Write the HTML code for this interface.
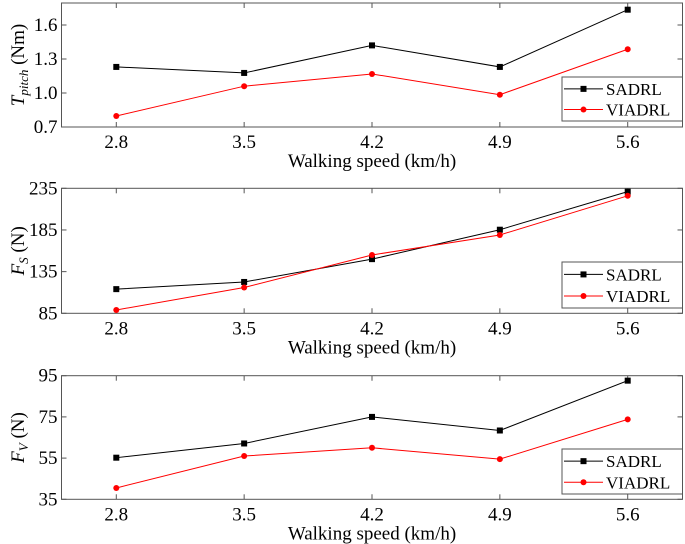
<!DOCTYPE html>
<html><head><meta charset="utf-8"><style>
body{margin:0;background:#fff;}
svg{display:block;}
svg text{font-family:"Liberation Serif","Times New Roman",serif;}
</style></head><body>
<svg id="chart" width="685" height="544" font-family="Liberation Serif, serif" xmlns="http://www.w3.org/2000/svg"></svg>
<script>
const categories=[2.8,3.5,4.2,4.9,5.6];
const xTickLabels=["2.8","3.5","4.2","4.9","5.6"];
const torqueSADRL=[1.23,1.177,1.42,1.23,1.735];
const torqueVIADRL=[0.797,1.06,1.168,0.985,1.386];
const torqueTicks=[0.7,1.0,1.3,1.6];
const fsSADRL=[114,122.6,150,185.3,231];
const fsVIADRL=[89,116,155,179,226];
const fsTicks=[85,135,185,235];
const fvSADRL=[55.2,62.1,75,68.4,92.6];
const fvVIADRL=[40.5,56,60,54.5,73.8];
const fvTicks=[35,55,75,95];

const svg=document.getElementById('chart');
const NS='http://www.w3.org/2000/svg';
function mk(tag,attrs,parent){const e=document.createElementNS(NS,tag);for(const k in attrs)e.setAttribute(k,attrs[k]);(parent||svg).appendChild(e);return e;}
const L=61.5,R=682.5;
const xMin=2.5,xMax=5.9;
function xs(v){return L+(v-xMin)/(xMax-xMin)*(R-L);}
const FF='Liberation Serif, serif';

function panel(cfg){
  const g=mk('g',{});
  
  
  const T=cfg.top,B=cfg.bottom;
  function ys(v){return B-(v-cfg.yMin)/(cfg.yMax-cfg.yMin)*(B-T);}
  const frame=mk('rect',{x:L,y:T,width:R-L,height:B-T,fill:'none',stroke:'#555','stroke-width':1},g);
  
  
  categories.forEach((c,i)=>{
    const x=xs(c);
    mk('line',{x1:x,y1:B,x2:x,y2:B-5,stroke:'#555'},g);
    mk('line',{x1:x,y1:T,x2:x,y2:T+5,stroke:'#555'},g);
    const t=mk('text',{x:x,y:B+21,'text-anchor':'middle','font-size':19,'font-family':FF},g);
    t.textContent=xTickLabels[i];
    
    
  });
  cfg.ticks.forEach(v=>{
    const y=ys(v);
    mk('line',{x1:L,y1:y,x2:L+5,y2:y,stroke:'#555'},g);
    mk('line',{x1:R,y1:y,x2:R-5,y2:y,stroke:'#555'},g);
    const t=mk('text',{x:L-4,y:y+6,'text-anchor':'end','font-size':19,'font-family':FF},g);
    t.textContent=cfg.tickFmt(v);
    
    
  });
  const xl=mk('text',{x:372,y:B+40,'text-anchor':'middle','font-size':19,'font-family':FF},g);
  xl.textContent='Walking speed (km/h)';
  
  
  const yl=mk('text',{x:0,y:0,'text-anchor':'middle','font-size':19,'font-family':FF,transform:`translate(24,${(T+B)/2}) rotate(-90)`},g);
  yl.innerHTML=cfg.ylabel;
  
  
  const series=[{d:cfg.s1,c:'#000',sq:true,n:'sadrl-series'},{d:cfg.s2,c:'#f00',sq:false,n:'viadrl-series'}];
  series.forEach(s=>{
    const pl=mk('polyline',{points:s.d.map((v,i)=>xs(categories[i])+','+ys(v)).join(' '),fill:'none',stroke:s.c,'stroke-width':1},g);
    
    
    s.d.forEach((v,i)=>{
      const x=xs(categories[i]),y=ys(v);
      const m=s.sq?mk('rect',{x:x-3,y:y-3,width:6,height:6,fill:s.c},g):mk('circle',{cx:x,cy:y,r:3,fill:s.c},g);
      
      
    });
  });
  const lg=mk('g',{},g);
  
  
  const lt=cfg.legTop,lb=cfg.legBot;
  mk('rect',{x:562,y:lt,width:R-562,height:lb-lt,fill:'#fff',stroke:'#555'},lg);
  const y1=lt+(lb-lt)*0.27,y2=lt+(lb-lt)*0.74;
  [[y1,'#000','SADRL',true],[y2,'#f00','VIADRL',false]].forEach(e=>{
    const le=mk('g',{},lg);
    
    
    mk('line',{x1:564,y1:e[0],x2:603,y2:e[0],stroke:e[1]},le);
    if(e[3])mk('rect',{x:580.5,y:e[0]-3,width:6,height:6,fill:e[1]},le);else mk('circle',{cx:583.5,cy:e[0],r:3,fill:e[1]},le);
    const t=mk('text',{x:606,y:e[0]+6,'font-size':17,'font-family':FF},le);
    t.textContent=e[2];
  });
}
panel({name:'torque-panel',top:3,bottom:127,yMin:0.7,yMax:1.794,ticks:torqueTicks,tickFmt:v=>v.toFixed(1),s1:torqueSADRL,s2:torqueVIADRL,
  ylabel:'<tspan font-style="italic">T</tspan><tspan font-style="italic" font-size="13" dy="4">pitch</tspan><tspan dy="-4"> (Nm)</tspan>',legTop:77,legBot:121});
panel({name:'fs-panel',top:188.3,bottom:313.3,yMin:85,yMax:235,ticks:fsTicks,tickFmt:v=>String(v),s1:fsSADRL,s2:fsVIADRL,
  ylabel:'<tspan font-style="italic">F</tspan><tspan font-style="italic" font-size="13" dy="4">S</tspan><tspan dy="-4"> (N)</tspan>',legTop:262,legBot:308});
panel({name:'fv-panel',top:375.7,bottom:499.3,yMin:35,yMax:95,ticks:fvTicks,tickFmt:v=>String(v),s1:fvSADRL,s2:fvVIADRL,
  ylabel:'<tspan font-style="italic">F</tspan><tspan font-style="italic" font-size="13" dy="4">V</tspan><tspan dy="-4"> (N)</tspan>',legTop:449,legBot:494});
</script>
</body></html>
